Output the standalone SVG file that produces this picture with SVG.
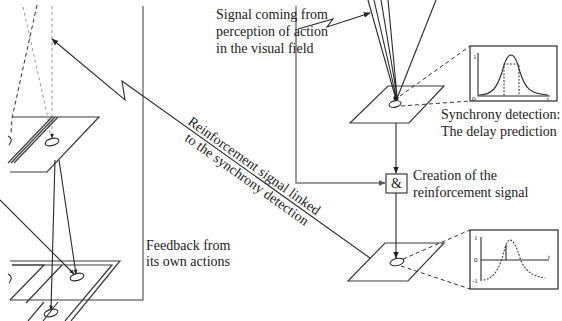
<svg xmlns="http://www.w3.org/2000/svg" width="562" height="321" viewBox="0 0 562 321">
  <defs>
    <marker id="ah" viewBox="0 0 10 10" refX="9" refY="5" markerWidth="7" markerHeight="7" orient="auto" markerUnits="userSpaceOnUse">
      <path d="M0,1 L10,5 L0,9 Z" fill="#222"/>
    </marker>
    <marker id="ahs" viewBox="0 0 10 10" refX="9" refY="5" markerWidth="5" markerHeight="5" orient="auto" markerUnits="userSpaceOnUse">
      <path d="M0,1 L10,5 L0,9 Z" fill="#222"/>
    </marker>
    <marker id="ahg" viewBox="0 0 10 10" refX="9" refY="5" markerWidth="7" markerHeight="7" orient="auto" markerUnits="userSpaceOnUse">
      <path d="M0,1 L10,5 L0,9 Z" fill="#555"/>
    </marker>
  </defs>
  <style>
    .t { font-family: "Liberation Serif", "Times New Roman", serif; font-size: 14px; fill: #222; }
    .s { font-family: "Liberation Serif", "Times New Roman", serif; font-size: 7px; fill: #222; }
    .ln { fill: none; stroke: #2a2a2a; stroke-width: 1.1; }
    .pl { fill: none; stroke: #3a3a3a; stroke-width: 1.2; }
    .gr { fill: none; stroke: #7a7a7a; stroke-width: 1.5; }
    .da { fill: none; stroke: #333; stroke-width: 1; stroke-dasharray: 4 3; }
    .dl { fill: none; stroke: #999; stroke-width: 1; stroke-dasharray: 3 3; }
    .dot { fill: none; stroke: #333; stroke-width: 1.1; stroke-dasharray: 1 2.4; stroke-linecap: round; }
  </style>

  <!-- left: upper plane of the mirrored structure (cropped) -->
  <g id="left-upper-plane">
    <path class="da" d="M37,5 L12,118 L11,134"/>
    <path class="dl" d="M23,7 L48,118 L50,134"/>
    <path class="dl" d="M52,6 L52,138" marker-end="url(#ahs)"/>
    <path class="pl" d="M12,117 L99,117 L47,172 L10,172"/>
    <path class="pl" d="M52,117 L8,163 M55,117 L11,163 M58,117 L14,163"/>
    <ellipse cx="52" cy="142" rx="7" ry="3.5" transform="rotate(-15 52 142)" class="ln"/>
    <path class="ln" d="M8,136 Q14,139 9,145"/>
  </g>

  <!-- left: lower planes of the mirrored structure (cropped) -->
  <g id="left-lower-planes">
    <path class="pl" d="M10,261 L120,261 L71,321"/>
    <path class="pl" d="M12,265 L112,265 L65,321"/>
    <path class="pl" d="M12,265 L44,265 L10,300"/>
    <path class="pl" d="M10,300 L95,300"/>
    <path class="pl" d="M62,265 L26,303 M44,302 L28,321 M58,302 L43,321"/>
    <ellipse cx="77" cy="277" rx="7" ry="3.5" transform="rotate(-15 77 277)" class="ln"/>
    <ellipse cx="51" cy="313" rx="7" ry="3.5" transform="rotate(-15 51 313)" class="ln"/>
    <path class="ln" d="M8,274 Q14,277 9,283"/>
  </g>

  <!-- right: perception plane -->
  <g id="upper-plane">
    <path class="pl" d="M388,86 L444,86 L409,123 L350,123 Z"/>
    <ellipse cx="395" cy="104" rx="6" ry="3.2" transform="rotate(-12 395 104)" class="ln"/>
    <circle cx="396" cy="98" r="2.6" fill="#222"/>
  </g>

  <!-- right: reinforcement plane -->
  <g id="lower-plane">
    <path class="pl" d="M385,243 L444,243 L408,281 L348,281 Z"/>
    <ellipse cx="397" cy="262" rx="7" ry="3.5" transform="rotate(-12 397 262)" class="ln"/>
  </g>

  <!-- AND gate -->
  <g id="and-gate">
    <rect x="386" y="174" width="21" height="19" fill="#fff" stroke="#2a2a2a" stroke-width="1.1"/>
    <text x="396.5" y="188" class="t" font-size="11" text-anchor="middle">&amp;</text>
  </g>

  <!-- inset: synchrony detection curve -->
  <g id="graph-delay">
    <rect x="470" y="46" width="87" height="55" fill="#fff" stroke="#2a2a2a" stroke-width="1.2"/>
    <path class="ln" d="M478,53 L478,96 L550,96"/>
    <path class="ln" d="M479,95 C492,95 497,88 502,72 C506,58 508,55 511,55 C514,55 516,58 520,72 C525,88 530,94 548,95"/>
    <path class="dot" d="M504,95 L504,64 L519,64 L519,95"/>
    <text x="473" y="59" class="s">1</text>
    <text x="472" y="101" class="s">0</text>
    <text x="547" y="101" class="s">t</text>
  </g>

  <!-- inset: reinforcement signal curve -->
  <g id="graph-reinforcement">
    <rect x="470" y="230" width="88" height="59" fill="#fff" stroke="#2a2a2a" stroke-width="1.2"/>
    <path class="ln" d="M481,237 L481,281 M481,260 L549,260"/>
    <path class="dot" d="M484,280 C495,278 500,266 503,255 C506,243 508,240 510,240 C513,240 516,245 520,258 C525,272 533,276 545,278"/>
    <path class="ln" d="M506,260 L506,245"/>
    <text x="474" y="240" class="s">1</text>
    <text x="474" y="262" class="s">0</text>
    <text x="472" y="283" class="s">-1</text>
    <text x="548" y="259" class="s">t</text>
  </g>

  <!-- connectors -->
  <g id="connectors">
    <!-- feedback lines -->
    <path class="gr" d="M143,6 L143,300 L95,300"/>
    <path class="gr" d="M296,6 L296,183 L385,183" marker-end="url(#ahg)"/>
    <!-- incoming visual signals -->
    <path class="ln" d="M368,0 L395,96 M374,0 L396,96 M381,0 L397,96 M388,0 L397,96 M436,0 L398,96"/>
    <path class="ln" d="M298,29 L333,19 L327,27 L370,13" marker-end="url(#ah)"/>
    <!-- plane to gate to plane -->
    <path class="ln" d="M396,123 L396,173" marker-end="url(#ah)"/>
    <path class="ln" d="M396,193 L396,258" marker-end="url(#ah)"/>
    <!-- zoom guides -->
    <path class="da" d="M400,96 L470,46 M401,106 L470,101"/>
    <path class="da" d="M403,259 L470,230 M401,266 L470,289"/>
    <!-- reinforcement back-projection -->
    <path class="ln" d="M370,258 L122,81 L125,100 L52,39" marker-end="url(#ah)"/>
    <!-- left mirrored projections -->
    <path class="ln" d="M55,160 L51,310" marker-end="url(#ahs)"/>
    <path class="ln" d="M59,160 L76,274" marker-end="url(#ahs)"/>
    <path class="ln" d="M0,200 L74,274" marker-end="url(#ahs)"/>
  </g>

  <!-- labels -->
  <g id="labels">
    <text class="t" x="216" y="19">Signal coming from</text>
    <text class="t" x="216" y="36">perception of action</text>
    <text class="t" x="216" y="53">in the visual field</text>
    <text class="t" x="441" y="119">Synchrony detection:</text>
    <text class="t" x="441" y="136">The delay prediction</text>
    <text class="t" x="413" y="180">Creation of the</text>
    <text class="t" x="413" y="197">reinforcement signal</text>
    <text class="t" x="146" y="250">Feedback from</text>
    <text class="t" x="146" y="266">its own actions</text>
    <text class="t" font-size="14.6" transform="translate(187,123.5) rotate(35.5)">Reinforcement signal linked</text>
    <text class="t" font-size="13.6" transform="translate(184,140) rotate(35.5)">to the synchrony detection</text>
  </g>
</svg>
